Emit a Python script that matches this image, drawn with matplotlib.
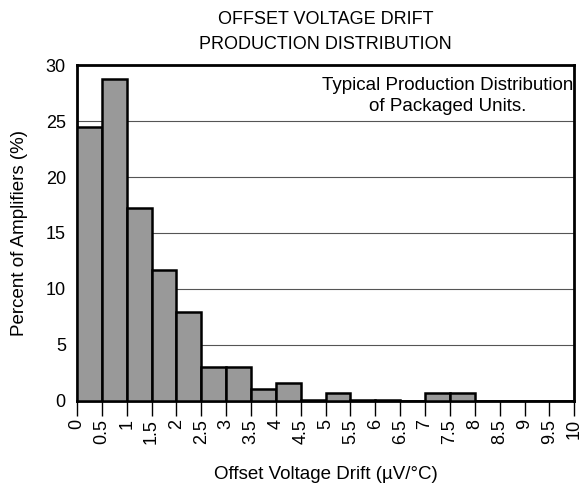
import numpy as np
import matplotlib.pyplot as plt

plt.rcParams['font.family'] = ['Liberation Sans', 'DejaVu Sans']

# bin edges (uV/C) and percent of amplifiers per bin
bin_left = np.arange(0, 10, 0.5)
percent = [24.5, 28.8, 17.2, 11.7, 7.9, 3.0, 3.0, 1.1, 1.6, 0.05,
           0.7, 0.05, 0.05, 0.0, 0.7, 0.7, 0.0, 0.0, 0.0, 0.0]
tick_labels = ['0', '0.5', '1', '1.5', '2', '2.5', '3', '3.5', '4', '4.5', '5',
               '5.5', '6', '6.5', '7', '7.5', '8', '8.5', '9', '9.5', '10']

fig = plt.figure(figsize=(5.83, 4.9), dpi=100)
ax = fig.add_axes([0.132, 0.182, 0.853, 0.685])

ax.bar(bin_left, percent, width=0.5, align='edge', color='#999999',
       edgecolor='black', linewidth=1.8, zorder=3)

ax.set_xlim(0, 10)
ax.set_ylim(0, 30)
ax.set_xticks(np.arange(0, 10.01, 0.5))
ax.set_xticklabels(tick_labels, rotation=90, fontsize=13)
ax.set_yticks([0, 5, 10, 15, 20, 25, 30])
ax.tick_params(axis='y', length=0, labelsize=13, pad=8)
ax.tick_params(axis='x', direction='out', length=11, width=1, pad=2)
ax.yaxis.grid(True, color='#555555', linewidth=0.8, zorder=0)
ax.set_axisbelow(True)
for s in ax.spines.values():
    s.set_linewidth(2)

ax.set_xlabel('Offset Voltage Drift (µV/°C)', fontsize=13.5, labelpad=16)
ax.set_ylabel('Percent of Amplifiers (%)', fontsize=13.5, labelpad=13)
ax.set_title('OFFSET VOLTAGE DRIFT\nPRODUCTION DISTRIBUTION', fontsize=13,
             pad=12, linespacing=1.6)

ax.text(0.745, 0.965, 'Typical Production Distribution\nof Packaged Units.',
        transform=ax.transAxes, ha='center', va='top', fontsize=13.5,
        linespacing=1.3, zorder=5)

fig.savefig('out.png', dpi=100)
